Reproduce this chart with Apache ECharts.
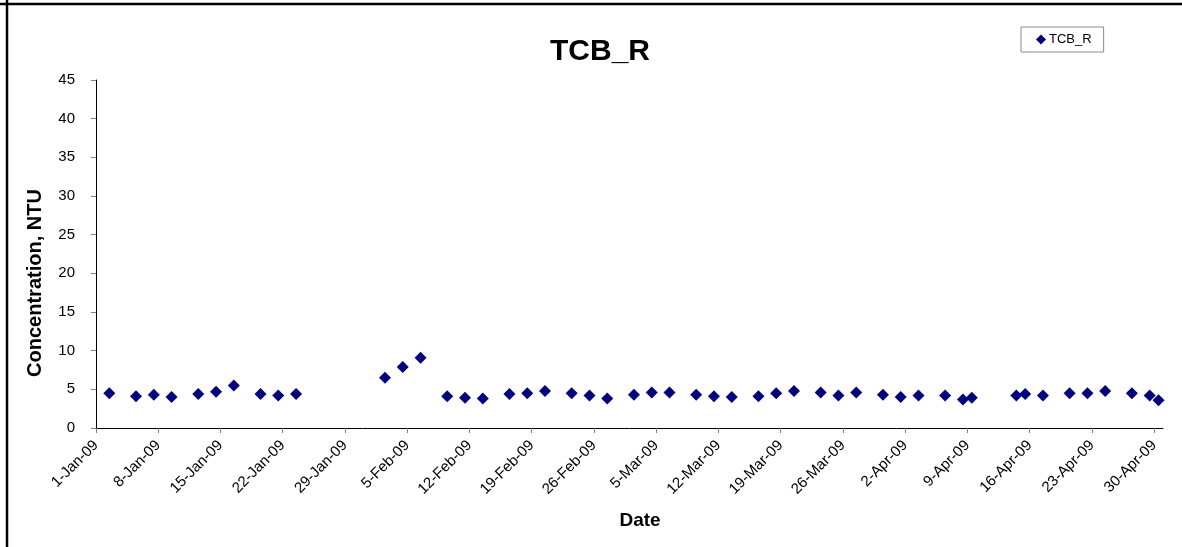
<!DOCTYPE html>
<html>
<head>
<meta charset="utf-8">
<script src="https://cdn.jsdelivr.net/npm/echarts@6/dist/echarts.min.js"></script>
<style>
html,body{margin:0;padding:0;background:#fff;}
#chart{width:1182px;height:547px;}
</style>
</head>
<body>
<div id="chart"></div>
<script>
// ---- data ----
const sampleDates = [
  '2009-01-02T12:00','2009-01-05T12:00','2009-01-07T12:00','2009-01-09T12:00','2009-01-12T12:00',
  '2009-01-14T12:00','2009-01-16T12:00','2009-01-19T12:00','2009-01-21T12:00','2009-01-23T12:00',
  '2009-02-02T12:00','2009-02-04T12:00','2009-02-06T12:00','2009-02-09T12:00','2009-02-11T12:00',
  '2009-02-13T12:00','2009-02-16T12:00','2009-02-18T12:00','2009-02-20T12:00','2009-02-23T12:00',
  '2009-02-25T12:00','2009-02-27T12:00','2009-03-02T12:00','2009-03-04T12:00','2009-03-06T12:00',
  '2009-03-09T12:00','2009-03-11T12:00','2009-03-13T12:00','2009-03-16T12:00','2009-03-18T12:00',
  '2009-03-20T12:00','2009-03-23T12:00','2009-03-25T12:00','2009-03-27T12:00','2009-03-30T12:00',
  '2009-04-01T12:00','2009-04-03T12:00','2009-04-06T12:00','2009-04-08T12:00','2009-04-09T12:00',
  '2009-04-14T12:00','2009-04-15T12:00','2009-04-17T12:00','2009-04-20T12:00','2009-04-22T12:00',
  '2009-04-24T12:00','2009-04-27T12:00','2009-04-29T12:00','2009-04-30T12:00'
];
const tcbR = [
  4.5, 4.1, 4.3, 4.0, 4.4,
  4.7, 5.5, 4.4, 4.2, 4.4,
  6.5, 7.9, 9.1, 4.1, 3.9,
  3.8, 4.4, 4.5, 4.8, 4.5,
  4.2, 3.8, 4.3, 4.6, 4.6,
  4.3, 4.1, 4.0, 4.1, 4.5,
  4.8, 4.6, 4.2, 4.6, 4.3,
  4.0, 4.2, 4.2, 3.7, 3.9,
  4.2, 4.4, 4.2, 4.5, 4.5,
  4.8, 4.5, 4.2, 3.6
];
const xStart = '2009-01-01';
const xEnd = '2009-05-01';
const tickStepDays = 7;
const yTicks = [0, 5, 10, 15, 20, 25, 30, 35, 40, 45];
const monthNames = ['Jan','Feb','Mar','Apr','May','Jun','Jul','Aug','Sep','Oct','Nov','Dec'];

// ---- build ----
const DAY = 86400000;
const toMs = s => Date.parse(s.length > 10 ? s + ':00Z' : s + 'T00:00:00Z');
const xMin = toMs(xStart), xMax = toMs(xEnd);
const weekTicks = [];
for (let t = xMin; t <= xMax; t += tickStepDays * DAY) weekTicks.push(t);
const points = sampleDates.map((d, i) => [toMs(d), tcbR[i]]);
const fmtDate = v => {
  const d = new Date(v);
  return d.getUTCDate() + '-' + monthNames[d.getUTCMonth()] + '-' + String(d.getUTCFullYear()).slice(2);
};

const FONT = '"Liberation Sans", Arial, sans-serif';
const chart = echarts.init(document.getElementById('chart'), null, {renderer: 'canvas'});
chart.setOption({
  animation: false,
  backgroundColor: '#fff',
  title: {
    text: 'TCB_R',
    left: 595, top: 32, textAlign: 'center',
    textStyle: {fontFamily: FONT, fontSize: 30, fontWeight: 'bold', color: '#000'}
  },
  legend: {
    left: 1021, top: 27,
    padding: [6, 12, 6, 15],
    borderColor: '#8c8c8c', borderWidth: 1,
    itemWidth: 10, itemHeight: 10, icon: 'diamond',
    itemStyle: {opacity: 1},
    textStyle: {fontFamily: FONT, fontSize: 13, color: '#000', padding: [0, 0, 0, -2]},
    data: ['TCB_R']
  },
  grid: {left: 96, right: 19, top: 80, bottom: 119, containLabel: false},
  xAxis: {
    type: 'value',
    min: xMin, max: xMax, interval: tickStepDays * DAY,
    splitLine: {show: false},
    axisLine: {lineStyle: {color: '#000', width: 1}},
    axisTick: {show: true, length: 5, lineStyle: {color: '#808080'}, customValues: weekTicks},
    axisLabel: {
      rotate: 45, margin: 15, fontFamily: FONT, fontSize: 15, color: '#000',
      customValues: weekTicks, formatter: v => fmtDate(v)
    }
  },
  yAxis: {
    type: 'value',
    min: yTicks[0], max: yTicks[yTicks.length - 1], interval: yTicks[1] - yTicks[0],
    splitLine: {show: false},
    axisLine: {show: true, lineStyle: {color: '#000', width: 1}},
    axisTick: {show: true, length: 5, lineStyle: {color: '#808080'}},
    axisLabel: {margin: 21, fontFamily: FONT, fontSize: 15, color: '#000'}
  },
  graphic: [
    {type: 'line', shape: {x1: 0, y1: 4, x2: 1182, y2: 4}, style: {stroke: '#000', lineWidth: 2.5}},
    {type: 'line', shape: {x1: 7, y1: 0, x2: 7, y2: 547}, style: {stroke: '#000', lineWidth: 2.5}},
    {type: 'text', x: 35, y: 283, rotation: Math.PI / 2,
     style: {text: 'Concentration, NTU', font: 'bold 20px ' + FONT, fill: '#000', textAlign: 'center', textVerticalAlign: 'middle'}},
    {type: 'text', x: 640, y: 521,
     style: {text: 'Date', font: 'bold 19px ' + FONT, fill: '#000', textAlign: 'center', textVerticalAlign: 'middle'}}
  ],
  series: [{
    name: 'TCB_R',
    type: 'scatter',
    symbol: 'diamond',
    symbolSize: 12,
    itemStyle: {color: '#000080', opacity: 1},
    data: points
  }]
});
</script>
</body>
</html>
